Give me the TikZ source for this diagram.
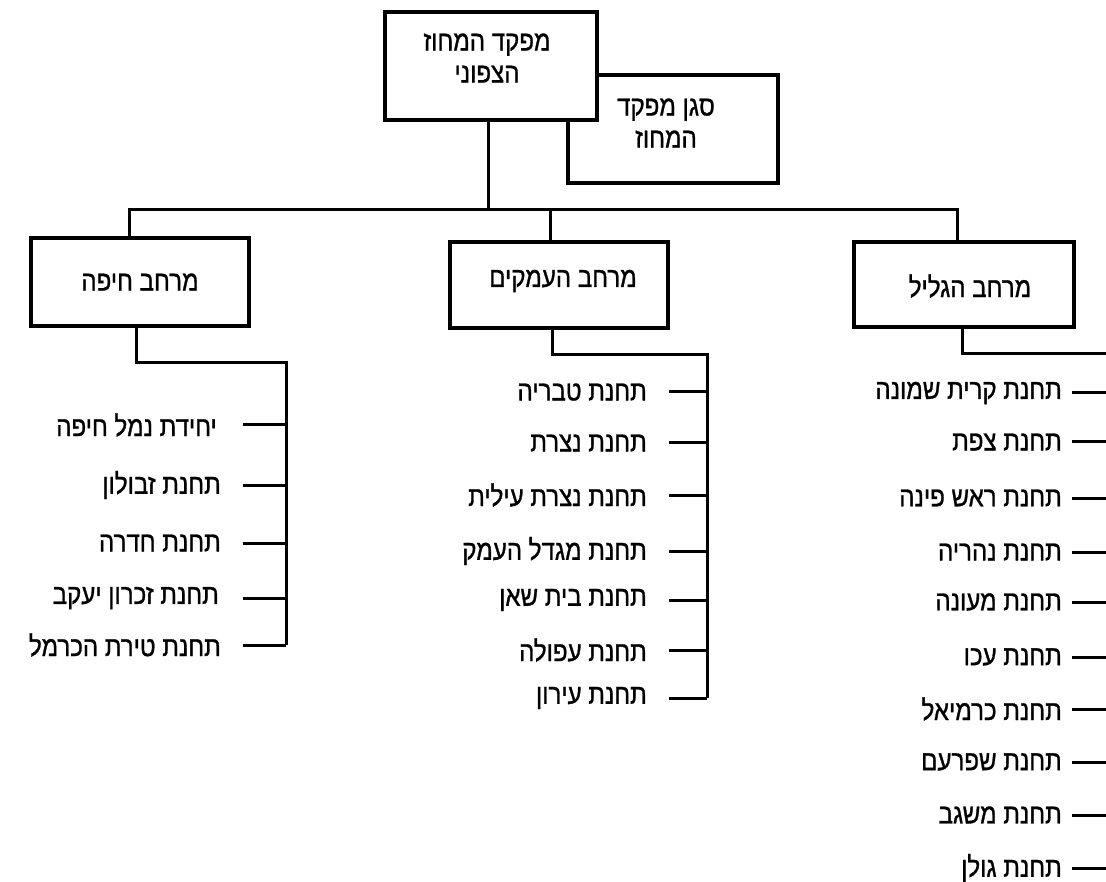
\documentclass[tikz,border=0pt]{standalone}
\usepackage{fontspec}
\setmainfont{Liberation Sans}
\newfontfamily\heb[Script=Hebrew,FakeStretch=0.86,FakeBold=1]{Liberation Sans}
\TeXXeTstate=1
\newcommand{\R}[1]{\beginR #1\endR}
\begin{document}
\begin{tikzpicture}[x=1pt,y=-1pt,
  ln/.style={line width=3pt},
  box/.style={draw,line width=3.2pt,fill=white,inner sep=0pt},
  txt/.style={inner sep=0pt,font=\heb\fontsize{28}{32}\selectfont,align=center},
  item/.style={inner sep=0pt,anchor=east,font=\heb\fontsize{28}{30}\selectfont}]
\useasboundingbox[fill=white] (0,0) rectangle (1106,882);
% top boxes
\node[box,minimum width=210pt,minimum height=108pt] (dep) at (673,129) {};
\node[txt] (deptxt) at (666,123) {\R{סגן מפקד}\\\R{המחוז}};
\node[box,minimum width=212pt,minimum height=108pt] (top) at (491,66) {};
\node[txt] (toptxt) at (487,58) {\R{מפקד המחוז}\\\R{הצפוני}};
% region boxes
\node[box,minimum width=218pt,minimum height=88pt] (haifa) at (140,282) {};
\node[txt] (haifatxt) at (140,282) {\R{מרחב חיפה}};
\node[box,minimum width=218pt,minimum height=86pt] (mid) at (559,285) {};
\node[txt] (midtxt) at (563,281) {\R{מרחב העמקים}};
\node[box,minimum width=220pt,minimum height=85pt] (gal) at (964,284.5) {};
\node[txt] (galtxt) at (970,286) {\R{מרחב הגליל}};
% main bus
\coordinate (busL) at (129,210);
\coordinate (busR) at (957,210);
\coordinate (topb) at (488,120);
\draw[ln] (topb) -- (topb |- busL);
\draw[ln] (busL |- haifa.north) -- (busL) -- (busR) -- (busR |- gal.north);
\coordinate (midt) at (550,210);
\draw[ln] (midt) -- (midt |- mid.north);
% Haifa list
\coordinate (hs) at (136,326);
\coordinate (hb) at (286,363);
\coordinate (hend) at (286,645);
\draw[ln] (hs) |- (hb) -- (hend);
\foreach \y/\x/\t [count=\i] in {425/217/{יחידת נמל חיפה},485/221/{תחנת זבולון},543/221/{תחנת חדרה},598/219/{תחנת זכרון יעקב},645/221/{תחנת טירת הכרמל}}{
  \node[item] (h\i) at (\x,\y) {\R{\t}};
  \coordinate (ht\i) at (243,\y);
  \draw[ln] (ht\i) -- (ht\i -| hb);
}
% Middle list
\coordinate (ms) at (552,328);
\coordinate (mb) at (707,355);
\coordinate (mend) at (707,698);
\draw[ln] (ms) |- (mb) -- (mend);
\foreach \y/\t [count=\i] in {392/{תחנת טבריה},443/{תחנת נצרת},495/{תחנת נצרת עילית},551/{תחנת מגדל העמק},600/{תחנת בית שאן},650/{תחנת עפולה},698/{תחנת עירון}}{
  \node[item] (m\i) at (647,\y) {\R{\t}};
  \coordinate (mt\i) at (669,\y);
  \draw[ln] (mt\i) -- (mt\i -| mb);
}
% Galilee list
\coordinate (gs) at (962,327);
\coordinate (gb) at (1106,354);
\draw[ln] (gs) |- (gb);
\foreach \y/\t [count=\i] in {393/{תחנת קרית שמונה},442/{תחנת צפת},498/{תחנת ראש פינה},552/{תחנת נהריה},602/{תחנת מעונה},657/{תחנת עכו},709/{תחנת כרמיאל},762/{תחנת שפרעם},815/{תחנת משגב},868/{תחנת גולן}}{
  \node[item] (g\i) at (1062,\y) {\R{\t}};
  \coordinate (gt\i) at (1072,\y);
  \draw[ln] (gt\i) -- (gt\i -| gb);
}
\end{tikzpicture}
\end{document}
